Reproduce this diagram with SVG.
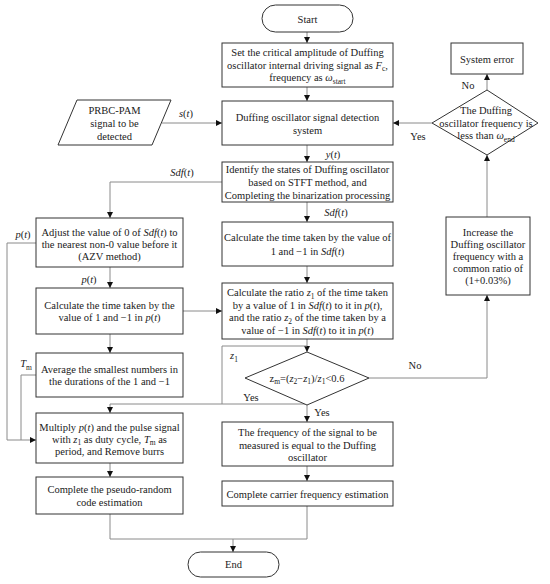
<svg xmlns="http://www.w3.org/2000/svg" width="550" height="584" viewBox="0 0 550 584">
<style>
.t{font-family:"Liberation Serif","Times New Roman",serif;font-size:10.5px;fill:#1a1a1a;text-anchor:middle}
.l{font-family:"Liberation Serif","Times New Roman",serif;font-size:10.5px;fill:#1a1a1a;text-anchor:middle}
.i{font-style:italic}
.s{font-size:7.5px}
.box{fill:#fff;stroke:#333;stroke-width:1}
.c{fill:none;stroke:#8a8a8a;stroke-width:1}
.a{fill:none;stroke:#8a8a8a;stroke-width:1;marker-end:url(#ah)}
</style>
<defs>
<marker id="ah" markerUnits="userSpaceOnUse" markerWidth="7" markerHeight="6" refX="6" refY="3" orient="auto">
<path d="M0,0 L6,3 L0,6 Z" fill="#111"/>
</marker>
</defs>
<rect width="550" height="584" fill="#fff"/>

<g id="connectors">
<path class="a" d="M307,32 V43"/>
<path class="a" d="M307,87 V101"/>
<path class="a" d="M162,123 H222"/>
<path class="a" d="M307,145 V162"/>
<path class="a" d="M307,202 V222"/>
<path class="a" d="M307,266 V283"/>
<path class="a" d="M307,339 V352"/>
<path class="a" d="M307,405 V422"/>
<path class="a" d="M307,466 V481"/>
<path class="a" d="M222,182 H110 V218"/>
<path class="a" d="M110,267 V288"/>
<path class="a" d="M36,243 H7 V440 H36"/>
<path class="a" d="M183,311 H222"/>
<path class="a" d="M110,334 V353"/>
<path class="c" d="M36,375 H21 V440"/>
<path class="c" d="M307,346 H222 V404"/>
<path class="a" d="M305,404 H110 V413"/>
<path class="a" d="M110,463 V477"/>
<path class="c" d="M110,514 V539 H307"/>
<path class="c" d="M307,506 V539"/>
<path class="a" d="M233,539 V552"/>
<path class="a" d="M369,378 H487 V295"/>
<path class="a" d="M487,217 V155"/>
<path class="a" d="M432,123 H393"/>
<path class="a" d="M487,90 V74"/>
<text class="l" x="186" y="117"><tspan class="i">s</tspan>(<tspan class="i">t</tspan>)</text>
<text class="l" x="333" y="158"><tspan class="i">y</tspan>(<tspan class="i">t</tspan>)</text>
<text class="l" x="336" y="216"><tspan class="i">Sdf</tspan>(<tspan class="i">t</tspan>)</text>
<text class="l" x="182" y="176"><tspan class="i">Sdf</tspan>(<tspan class="i">t</tspan>)</text>
<text class="l" x="23" y="238"><tspan class="i">p</tspan>(<tspan class="i">t</tspan>)</text>
<text class="l" x="89" y="283"><tspan class="i">p</tspan>(<tspan class="i">t</tspan>)</text>
<text class="l" x="26" y="367"><tspan class="i">T</tspan><tspan class="s" dy="2.5">m</tspan></text>
<text class="l" x="234" y="359"><tspan class="i">z</tspan><tspan class="s" dy="2.5">1</tspan></text>
<text class="l" x="251" y="401">Yes</text>
<text class="l" x="322" y="416">Yes</text>
<text class="l" x="415" y="369">No</text>
<text class="l" x="418" y="140">Yes</text>
<text class="l" x="468" y="89">No</text>
</g>

<g id="start">
<rect class="box" x="262" y="5" width="91" height="27" rx="13.5"/>
<text class="t" x="307.5" y="22.5">Start</text>
</g>

<g id="set-amplitude">
<rect class="box" x="222" y="43" width="171" height="44"/>
<text class="t" x="307.5" y="56">Set the critical amplitude of Duffing</text>
<text class="t" x="307.5" y="68.5">oscillator internal driving signal as <tspan class="i">F</tspan><tspan class="s" dy="2.5">c</tspan><tspan dy="-2.5">,</tspan></text>
<text class="t" x="307.5" y="81">frequency as <tspan class="i">ω</tspan><tspan class="s" dy="2.5">start</tspan></text>
</g>

<g id="input-signal">
<polygon class="box" points="77,100 171,100 152,145 58,145"/>
<text class="t" x="114.5" y="114">PRBC-PAM</text>
<text class="t" x="114.5" y="127">signal to be</text>
<text class="t" x="114.5" y="139.5">detected</text>
</g>

<g id="detection-system">
<rect class="box" x="222" y="101" width="171" height="44"/>
<text class="t" x="307.5" y="120.5">Duffing oscillator signal detection</text>
<text class="t" x="307.5" y="133.5">system</text>
</g>

<g id="identify-states">
<rect class="box" x="222" y="162" width="171" height="40"/>
<text class="t" x="307.5" y="172.5">Identify the states of Duffing oscillator</text>
<text class="t" x="307.5" y="185.5">based on STFT method, and</text>
<text class="t" x="307.5" y="198.5">Completing the binarization processing</text>
</g>

<g id="time-sdf">
<rect class="box" x="222" y="222" width="171" height="44"/>
<text class="t" x="307.5" y="241">Calculate the time taken by the value of</text>
<text class="t" x="307.5" y="254.5">1 and −1 in <tspan class="i">Sdf</tspan>(<tspan class="i">t</tspan>)</text>
</g>

<g id="ratio">
<rect class="box" x="222" y="283" width="171" height="56"/>
<text class="t" x="307.5" y="296">Calculate the ratio <tspan class="i">z</tspan><tspan class="s" dy="2.5">1</tspan><tspan dy="-2.5"> of the time taken</tspan></text>
<text class="t" x="307.5" y="308.5">by a value of 1 in <tspan class="i">Sdf</tspan>(<tspan class="i">t</tspan>) to it in <tspan class="i">p</tspan>(<tspan class="i">t</tspan>),</text>
<text class="t" x="307.5" y="321">and the ratio <tspan class="i">z</tspan><tspan class="s" dy="2.5">2</tspan><tspan dy="-2.5"> of the time taken by a</tspan></text>
<text class="t" x="307.5" y="333.5">value of −1 in <tspan class="i">Sdf</tspan>(<tspan class="i">t</tspan>) to it in <tspan class="i">p</tspan>(<tspan class="i">t</tspan>)</text>
</g>

<g id="zm-decision">
<polygon class="box" points="307,352 369,378 307,405 245,378"/>
<text class="t" x="307" y="381.5"><tspan>z</tspan><tspan class="s" dy="2.5">m</tspan><tspan dy="-2.5">=(</tspan><tspan class="i">z</tspan><tspan class="s" dy="2.5">2</tspan><tspan dy="-2.5">−</tspan><tspan class="i">z</tspan><tspan class="s" dy="2.5">1</tspan><tspan dy="-2.5">)/</tspan><tspan class="i">z</tspan><tspan class="s" dy="2.5">1</tspan><tspan dy="-2.5">&lt;0.6</tspan></text>
</g>

<g id="frequency-equal">
<rect class="box" x="222" y="422" width="171" height="44"/>
<text class="t" x="307.5" y="435.5">The frequency of the signal to be</text>
<text class="t" x="307.5" y="448.5">measured is equal to the Duffing</text>
<text class="t" x="307.5" y="461">oscillator</text>
</g>

<g id="carrier-estimation">
<rect class="box" x="222" y="481" width="171" height="25"/>
<text class="t" x="307.5" y="497.5">Complete carrier frequency estimation</text>
</g>

<g id="azv">
<rect class="box" x="36" y="218" width="147" height="49"/>
<text class="t" x="109.5" y="235.5">Adjust the value of 0 of <tspan class="i">Sdf</tspan>(<tspan class="i">t</tspan>) to</text>
<text class="t" x="109.5" y="247.5">the nearest non-0 value before it</text>
<text class="t" x="109.5" y="259.5">(AZV method)</text>
</g>

<g id="time-p">
<rect class="box" x="36" y="288" width="147" height="46"/>
<text class="t" x="109.5" y="308.5">Calculate the time taken by the</text>
<text class="t" x="109.5" y="321">value of 1 and −1 in <tspan class="i">p</tspan>(<tspan class="i">t</tspan>)</text>
</g>

<g id="average">
<rect class="box" x="36" y="353" width="147" height="44"/>
<text class="t" x="109.5" y="372.5">Average the smallest numbers in</text>
<text class="t" x="109.5" y="385">the durations of the 1 and −1</text>
</g>

<g id="multiply">
<rect class="box" x="36" y="413" width="147" height="50"/>
<text class="t" x="109.5" y="430.5">Multiply <tspan class="i">p</tspan>(<tspan class="i">t</tspan>) and the pulse signal</text>
<text class="t" x="109.5" y="442.5">with <tspan class="i">z</tspan><tspan class="s" dy="2.5">1</tspan><tspan dy="-2.5"> as duty cycle, </tspan><tspan class="i">T</tspan><tspan class="s" dy="2.5">m</tspan><tspan dy="-2.5"> as</tspan></text>
<text class="t" x="109.5" y="454.5">period, and Remove burrs</text>
</g>

<g id="pseudo-random">
<rect class="box" x="36" y="477" width="147" height="37"/>
<text class="t" x="109.5" y="492.5">Complete the pseudo-random</text>
<text class="t" x="109.5" y="505.5">code estimation</text>
</g>

<g id="end">
<rect class="box" x="188" y="552" width="91" height="25" rx="12.5"/>
<text class="t" x="233.5" y="568">End</text>
</g>

<g id="increase-frequency">
<rect class="box" x="446" y="217" width="84" height="78"/>
<text class="t" x="488" y="235.5">Increase the</text>
<text class="t" x="488" y="247.5">Duffing oscillator</text>
<text class="t" x="488" y="259.5">frequency with a</text>
<text class="t" x="488" y="271.5">common ratio of</text>
<text class="t" x="488" y="284">(1+0.03%)</text>
</g>

<g id="end-decision">
<polygon class="box" points="487,90 538,123 487,155 432,123"/>
<text class="t" x="486" y="113.5">The Duffing</text>
<text class="t" x="486" y="126.5">oscillator frequency is</text>
<text class="t" x="486" y="139">less than <tspan class="i">ω</tspan><tspan class="s" dy="2.5">end</tspan></text>
</g>

<g id="system-error">
<rect class="box" x="451" y="43" width="72" height="31"/>
<text class="t" x="487" y="62.5">System error</text>
</g>
</svg>
